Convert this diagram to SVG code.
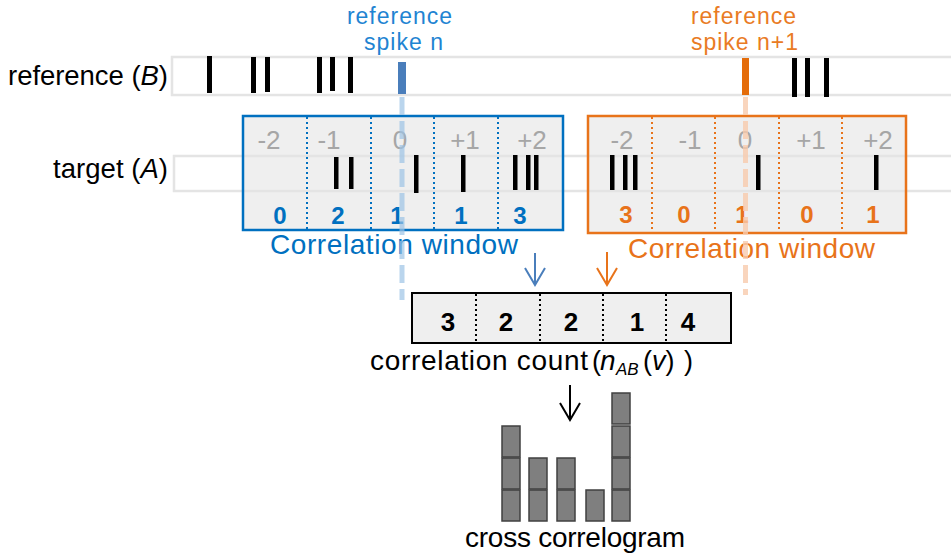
<svg xmlns="http://www.w3.org/2000/svg" width="951" height="555" viewBox="0 0 951 555">
<defs>
<style>
text{font-family:"Liberation Sans",Arial,sans-serif}
.lbl{font-size:27.5px;fill:#000}
.track{fill:none;stroke:#e4e4e4;stroke-width:2.5}
.spk{fill:#000}
.bin{font-size:26px;fill:#a6a6a6;text-anchor:middle}
.cb{font-size:24px;font-weight:bold;fill:#0070C0;text-anchor:middle}
.co{font-size:24px;font-weight:bold;fill:#E8731A;text-anchor:middle}
.ck{font-size:26px;font-weight:bold;fill:#000;text-anchor:middle}
.boxfill{fill:#efefef}
.dotb{stroke:#0070C0;stroke-width:2;stroke-dasharray:2 3}
.doto{stroke:#E8731A;stroke-width:2;stroke-dasharray:2 3}
.dotk{stroke:#000;stroke-width:2;stroke-dasharray:2 3}
.bar{fill:#7f7f7f;stroke:#404040;stroke-width:1.5}
.sl{font-size:23px;text-anchor:middle;letter-spacing:1px}
</style>
<marker id="ab" markerWidth="30" markerHeight="30" refX="0" refY="0" viewBox="-20 -15 30 30" markerUnits="userSpaceOnUse" orient="auto"><path d="M-17,-10 L0,0 L-17,10" fill="none" stroke="#4A7EBB" stroke-width="2"/></marker>
<marker id="ao" markerWidth="30" markerHeight="30" refX="0" refY="0" viewBox="-20 -15 30 30" markerUnits="userSpaceOnUse" orient="auto"><path d="M-17,-10 L0,0 L-17,10" fill="none" stroke="#E8731A" stroke-width="2"/></marker>
<marker id="ak" markerWidth="30" markerHeight="30" refX="0" refY="0" viewBox="-20 -15 30 30" markerUnits="userSpaceOnUse" orient="auto"><path d="M-17,-10 L0,0 L-17,10" fill="none" stroke="#000" stroke-width="2"/></marker>
</defs>
<rect width="951" height="555" fill="#fff"/>

<g id="labels">
<text class="lbl" x="8" y="85" textLength="160">reference (<tspan font-style="italic">B</tspan>)</text>
<text class="lbl" x="53" y="178" textLength="115">target (<tspan font-style="italic">A</tspan>)</text>
</g>

<g id="reference-track">
<rect class="track" x="172" y="57" width="800" height="38"/>
<rect class="spk" x="207" y="56" width="5" height="37"/>
<rect class="spk" x="251" y="57" width="5" height="36"/>
<rect class="spk" x="265" y="57" width="5" height="35"/>
<rect class="spk" x="317" y="57" width="5" height="36"/>
<rect class="spk" x="330" y="57" width="5" height="34"/>
<rect class="spk" x="348" y="57" width="5" height="36"/>
<rect class="spk" x="792" y="58" width="5" height="39"/>
<rect class="spk" x="805" y="58" width="5" height="39"/>
<rect class="spk" x="824" y="58" width="5" height="39"/>
<rect x="398" y="62" width="8" height="32" fill="#4A7EBB"/>
<rect x="742" y="58" width="7" height="37" fill="#E46C0A"/>
</g>

<g id="spike-n-label">
<text class="sl" x="400" y="24" fill="#1F84D2">reference</text>
<text class="sl" x="404" y="50" fill="#1F84D2">spike n</text>
</g>
<g id="spike-n1-label">
<text class="sl" x="744" y="24" fill="#E97B24">reference</text>
<text class="sl" x="745" y="50" fill="#E97B24">spike n+1</text>
</g>

<g id="window-blue">
<rect class="boxfill" x="243" y="116" width="320" height="114"/>
</g>
<g id="window-orange">
<rect class="boxfill" x="588" y="116" width="318" height="117"/>
</g>

<g id="target-track">
<rect class="track" x="174" y="156" width="800" height="35"/>
<rect class="spk" x="334" y="157" width="4.5" height="32"/>
<rect class="spk" x="349" y="157" width="4.5" height="32"/>
<rect class="spk" x="414" y="155" width="4.5" height="38"/>
<rect class="spk" x="461" y="155" width="4.5" height="37"/>
<rect class="spk" x="513" y="155" width="4.5" height="35"/>
<rect class="spk" x="526" y="155" width="4.5" height="35"/>
<rect class="spk" x="534" y="155" width="4.5" height="35"/>
<rect class="spk" x="610" y="155" width="4.5" height="35"/>
<rect class="spk" x="623" y="155" width="4.5" height="35"/>
<rect class="spk" x="633" y="155" width="4.5" height="35"/>
<rect class="spk" x="756" y="155" width="4.5" height="35"/>
<rect class="spk" x="874" y="155" width="4.5" height="35"/>
</g>

<g id="window-blue-content">
<line class="dotb" x1="307" y1="117" x2="307" y2="229"/>
<line class="dotb" x1="371" y1="117" x2="371" y2="229"/>
<line class="dotb" x1="434" y1="117" x2="434" y2="229"/>
<line class="dotb" x1="498" y1="117" x2="498" y2="229"/>
<rect x="243" y="116" width="320" height="114" fill="none" stroke="#0070C0" stroke-width="2.5"/>
<text class="bin" x="269" y="149">-2</text>
<text class="bin" x="329" y="149">-1</text>
<text class="bin" x="400" y="149">0</text>
<text class="bin" x="465" y="149">+1</text>
<text class="bin" x="532" y="149">+2</text>
<text class="cb" x="280" y="224">0</text>
<text class="cb" x="338" y="224">2</text>
<text class="cb" x="397" y="224">1</text>
<text class="cb" x="461" y="224">1</text>
<text class="cb" x="520" y="224">3</text>
<text x="270" y="254" font-size="28" fill="#0070C0" textLength="248">Correlation window</text>
</g>

<g id="window-orange-content">
<line class="doto" x1="652" y1="117" x2="652" y2="232"/>
<line class="doto" x1="715" y1="117" x2="715" y2="232"/>
<line class="doto" x1="779" y1="117" x2="779" y2="232"/>
<line class="doto" x1="842" y1="117" x2="842" y2="232"/>
<rect x="588" y="116" width="318" height="117" fill="none" stroke="#E8731A" stroke-width="2.5"/>
<text class="bin" x="622" y="149">-2</text>
<text class="bin" x="690" y="149">-1</text>
<text class="bin" x="745" y="149">0</text>
<text class="bin" x="811" y="149">+1</text>
<text class="bin" x="878" y="149">+2</text>
<text class="co" x="626" y="223">3</text>
<text class="co" x="684" y="223">0</text>
<text class="co" x="742" y="223">1</text>
<text class="co" x="807" y="223">0</text>
<text class="co" x="873" y="223">1</text>
<text x="628" y="258" font-size="28" fill="#E8731A" textLength="247">Correlation window</text>
</g>

<g id="count-box">
<rect x="412" y="293" width="319" height="50" fill="#efefef" stroke="#000" stroke-width="2"/>
<line class="dotk" x1="476" y1="294" x2="476" y2="342"/>
<line class="dotk" x1="540" y1="294" x2="540" y2="342"/>
<line class="dotk" x1="603" y1="294" x2="603" y2="342"/>
<line class="dotk" x1="666" y1="294" x2="666" y2="342"/>
<text class="ck" x="448" y="331">3</text>
<text class="ck" x="506" y="331">2</text>
<text class="ck" x="571" y="331">2</text>
<text class="ck" x="637" y="331">1</text>
<text class="ck" x="688" y="331">4</text>
<text x="370" y="370" font-size="28" textLength="218">correlation count</text>
<text x="592" y="370" font-size="27">(</text>
<text x="600" y="370" font-size="28" font-family="Liberation Serif,serif" font-style="italic">n</text>
<text x="616" y="375" font-size="17" font-family="Liberation Serif,serif" font-style="italic">AB</text>
<text x="643" y="370" font-size="27" font-family="Liberation Serif,serif">(<tspan font-style="italic">v</tspan>)</text>
<text x="684" y="370" font-size="27">)</text>
</g>

<g id="cross-correlogram">
<rect class="bar" x="502" y="490" width="18" height="31"/>
<rect class="bar" x="502" y="458" width="18" height="31"/>
<rect class="bar" x="502" y="426" width="18" height="31"/>
<rect class="bar" x="529" y="490" width="18" height="31"/>
<rect class="bar" x="529" y="458" width="18" height="31"/>
<rect class="bar" x="557" y="490" width="18" height="31"/>
<rect class="bar" x="557" y="458" width="18" height="31"/>
<rect class="bar" x="586" y="490" width="18" height="31"/>
<rect class="bar" x="612" y="490" width="18" height="31"/>
<rect class="bar" x="612" y="458" width="18" height="31"/>
<rect class="bar" x="612" y="426" width="18" height="31"/>
<rect class="bar" x="612" y="393" width="18" height="31"/>
<text x="465" y="547" font-size="28" textLength="220">cross correlogram</text>
</g>

<g id="connectors">
<line x1="402" y1="97" x2="402" y2="300" stroke="#9DC3E6" stroke-opacity="0.7" stroke-width="5" stroke-dasharray="18 6"/>
<line x1="745.5" y1="97" x2="745.5" y2="295" stroke="#F8CBAD" stroke-opacity="0.8" stroke-width="5" stroke-dasharray="18 6"/>
<path d="M535,253 L535,285" stroke="#4A7EBB" stroke-width="2" fill="none" marker-end="url(#ab)"/>
<path d="M607,252 L607,285" stroke="#E8731A" stroke-width="2" fill="none" marker-end="url(#ao)"/>
<path d="M570,385 L570,420" stroke="#000" stroke-width="2" fill="none" marker-end="url(#ak)"/>
</g>
</svg>
